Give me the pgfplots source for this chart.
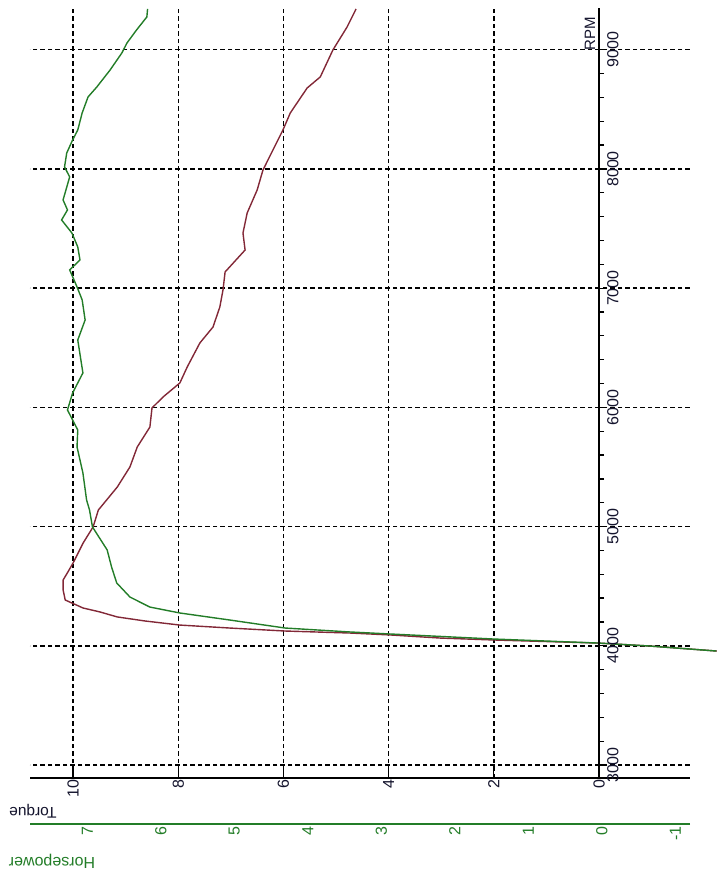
\documentclass[border=0pt]{standalone}
\usepackage{fontspec}
\setmainfont{Liberation Sans}
\usepackage{pgfplots}
\pgfplotsset{compat=1.18}
\definecolor{trq}{RGB}{130,40,55}
\definecolor{hpc}{RGB}{35,125,40}
\definecolor{ink}{RGB}{20,20,45}
\pgfplotsset{
  common/.style={
    scale only axis, clip=false,
    /pgf/number format/assume math mode=true,
    /pgf/number format/1000 sep={},
    scaled x ticks=false, scaled y ticks=false,
    tick label style={font=\fontsize{16}{19}\selectfont, text=ink},
  }
}
\begin{document}
\begin{tikzpicture}[x=1pt,y=1pt]
\path[use as bounding box] (0,0) rectangle (717,-876);
% ---------- Torque axis (with grid) ----------
\begin{axis}[common,
  at={(30pt,-8pt)}, anchor=north west, width=660pt, height=770pt,
  x dir=reverse, xmin=-1.73, xmax=10.82, ymin=2891, ymax=9350,
  axis x line*=bottom, axis y line*=left,
  x axis line style={-, black, line width=1.6pt},
  y axis line style={draw=none},
  xtick={0,2,...,10}, ytick={3000,4000,...,9000},
  yticklabels={}, ytick style={draw=none},
  xtick style={black, line width=1.3pt},
  tick align=inside, major tick length=11pt,
  grid=major,
  major grid style={black, line width=1.5pt, dash pattern=on 4.5pt off 3pt},
  xticklabel style={rotate=90, anchor=east, inner sep=1.5pt},
]
\addplot[trq, line width=1.4pt] coordinates {
(-2.24,3956) (-0.97,3998) (0.02,4023) (2.02,4049) (3.02,4065) (3.97,4091)
(4.73,4107) (5.97,4124) (7.02,4149) (7.97,4174) (8.63,4208) (9.16,4242)
(9.49,4284) (9.81,4317) (10.15,4384) (10.19,4468) (10.19,4552) (10.11,4611)
(10.00,4695) (9.81,4862) (9.62,4997) (9.52,5139) (9.16,5332) (8.92,5500)
(8.78,5668) (8.54,5835) (8.50,5995) (8.29,6087) (7.97,6205) (7.83,6339)
(7.59,6540) (7.34,6674) (7.21,6842) (7.15,6985) (7.11,7136) (6.73,7320)
(6.77,7463) (6.69,7631) (6.50,7824) (6.39,7991) (6.20,8159) (6.01,8327)
(5.87,8470) (5.55,8679) (5.30,8772) (5.06,8998) (4.79,9191) (4.62,9342)
};
\end{axis}
% ---------- Horsepower axis ----------
\begin{axis}[common,
  at={(30pt,-8pt)}, anchor=north west, width=660pt, height=816pt,
  x dir=reverse, xmin=-1.20, xmax=7.78, ymin=2505, ymax=9350,
  axis x line*=bottom, axis y line=none,
  x axis line style={-, hpc, line width=1.5pt},
  xtick={-1,0,...,7}, major tick length=0pt,
  xticklabel style={rotate=90, anchor=east, inner sep=2.5pt, text=hpc},
]
\addplot[hpc, line width=1.4pt] coordinates {
(-1.56,3956) (-0.65,3998) (0.05,4023) (1.48,4057) (2.88,4099) (3.43,4116)
(4.31,4149) (5.06,4216) (5.74,4275) (6.15,4325) (6.42,4409) (6.60,4527)
(6.67,4661) (6.73,4804) (6.93,4997) (6.97,5139) (7.01,5223) (7.06,5450)
(7.14,5668) (7.13,5810) (7.27,5978) (7.20,6121) (7.06,6289) (7.13,6565)
(7.03,6733) (7.07,6901) (7.14,7010) (7.24,7153) (7.10,7236) (7.13,7346)
(7.21,7463) (7.35,7572) (7.27,7656) (7.33,7740) (7.24,7933) (7.31,8017)
(7.28,8134) (7.20,8243) (7.13,8327) (7.07,8470) (6.99,8604) (6.87,8688)
(6.69,8830) (6.53,8973) (6.46,9057) (6.33,9166) (6.19,9275) (6.18,9342)
};
\end{axis}
% ---------- RPM axis ----------
\begin{axis}[common,
  at={(30pt,-8pt)}, anchor=north west, width=569pt, height=770pt,
  xmin=0, xmax=1, ymin=2891, ymax=9350,
  axis x line=none, axis y line*=right,
  y axis line style={-, black, line width=1.6pt},
  ytick={3000,4000,...,9000}, minor y tick num=4,
  tick align=outside, major tick length=5pt, minor tick length=5pt,
  ytick style={black, line width=1.3pt},
  yticklabel style={rotate=90, anchor=north, inner sep=3pt},
]
\end{axis}
\node[rotate=180, inner sep=0pt, font=\fontsize{15.5}{18}\selectfont, text=ink] at (33,-811) {Torque};
\node[rotate=180, inner sep=0pt, font=\fontsize{16}{19}\selectfont, text=hpc] at (52,-861) {Horsepower};
\node[rotate=90, inner sep=0pt, font=\fontsize{15}{18}\selectfont, text=ink] at (590,-34) {RPM};
\end{tikzpicture}
\end{document}
